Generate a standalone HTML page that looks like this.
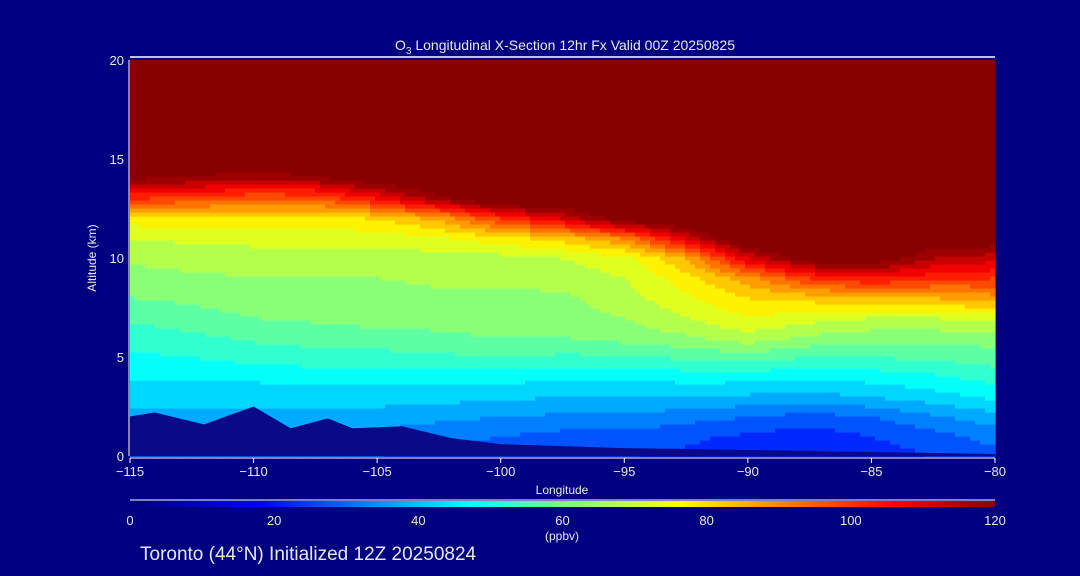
<!DOCTYPE html>
<html><head><meta charset="utf-8"><style>
body{margin:0;background:#000080;}
svg{display:block;font-family:"Liberation Sans",sans-serif;}
</style></head><body>
<svg id="chart" width="1080" height="576" viewBox="0 0 1080 576">
<rect width="1080" height="576" fill="#000080"/>
<g id="cells"></g>
<polygon id="terrain" fill="#0a0a88"/>
<g id="axes"></g>
<text x="565" y="50" fill="#e8e8e8" font-size="14" text-anchor="middle">O<tspan font-size="10" dy="4">3</tspan><tspan dy="-4"> Longitudinal X-Section 12hr  Fx Valid 00Z 20250825</tspan></text>
<text x="562" y="494" fill="#e8e8e8" font-size="12" text-anchor="middle">Longitude</text>
<text x="96" y="258" fill="#e8e8e8" font-size="12" text-anchor="middle" transform="rotate(-90 96 258)">Altitude (km)</text>
<g id="cbar"></g>
<text x="562" y="540" fill="#e8e8e8" font-size="12" text-anchor="middle">(ppbv)</text>
<text x="140" y="560" fill="#e8e8e8" font-size="19">Toronto (44°N) Initialized 12Z 20250824</text>
</svg>
<script>
const lons=[-115,-112.5,-110,-107.5,-105,-102.5,-100,-97.5,-95,-92.5,-90,-87.5,-85,-82.5,-80];
const alts=[0,1,2,3,4,5,6,7,8,9,10,11,12,13,14,15,16,17,18,19,20];
const H=130;
const ozone=[
[30,30,30,30,30,28,26,25,25,24,22,20,22,25,28],
[33,33,33,33,33,32,30,28,28,26,24,22,25,28,32],
[38,38,38,38,38,36,35,34,34,32,30,28,30,34,38],
[42,42,42,42,42,42,41,40,40,40,39,38,40,43,46],
[46,46,46,47,47,47,47,46,46,47,47,46,47,49,52],
[49,50,52,53,53,54,55,54,54,56,57,55,55,56,58],
[52,54,56,57,58,59,60,60,62,64,68,64,62,62,62],
[56,58,60,61,62,62,63,63,65,70,75,72,70,70,72],
[60,61,63,63,63,64,64,64,68,74,80,82,85,85,88],
[63,64,65,65,65,66,66,67,70,78,88,100,105,102,100],
[66,67,67,67,67,68,68,70,73,85,110,125,125,115,112],
[70,71,72,72,72,74,78,82,90,110,H,H,H,125,125],
[78,78,78,78,80,86,100,110,125,H,H,H,H,H,H],
[100,98,95,95,105,118,H,H,H,H,H,H,H,H,H],
[120,118,115,118,125,H,H,H,H,H,H,H,H,H,H],
[H,H,H,H,H,H,H,H,H,H,H,H,H,H,H],
[H,H,H,H,H,H,H,H,H,H,H,H,H,H,H],
[H,H,H,H,H,H,H,H,H,H,H,H,H,H,H],
[H,H,H,H,H,H,H,H,H,H,H,H,H,H,H],
[H,H,H,H,H,H,H,H,H,H,H,H,H,H,H],
[H,H,H,H,H,H,H,H,H,H,H,H,H,H,H]];
const terrainLon=[-115,-114,-112,-110,-108.5,-107,-106,-104,-102,-100,-95,-90,-85,-80];
const terrainAlt=[2.0,2.2,1.6,2.5,1.4,1.9,1.4,1.5,0.9,0.6,0.4,0.3,0.2,0.1];
const xTicks=[-115,-110,-105,-100,-95,-90,-85,-80];
const yTicks=[0,5,10,15,20];
const cTicks=[0,20,40,60,80,100,120];

const X0=130,X1=995,Y0=456,Y1=60;
const xs=l=>X0+(l+115)/35*(X1-X0);
const ys=a=>Y0-a/20*(Y0-Y1);
const stops=[[0,[0,0,128]],[18,[0,0,255]],[47,[0,255,255]],[76,[255,255,0]],[106,[255,0,0]],[120,[136,0,0]]];
function color(v){
  if(v>=120)return 'rgb(136,0,0)';
  v=Math.max(0,v);
  for(let i=0;i<stops.length-1;i++){const[a,ca]=stops[i],[b,cb]=stops[i+1];
    if(v<=b){const t=(v-a)/(b-a);return 'rgb('+ca.map((c,k)=>Math.round(c+(cb[k]-c)*t)).join(',')+')';}}
}
function val(lon,alt){
  let i=Math.min(lons.length-2,Math.max(0,Math.floor((lon+115)/2.5)));
  let j=Math.min(alts.length-2,Math.max(0,Math.floor(alt)));
  const tx=(lon-lons[i])/2.5,ty=alt-alts[j];
  const a=ozone[j][i],b=ozone[j][i+1],c=ozone[j+1][i],d=ozone[j+1][i+1];
  return (a*(1-tx)+b*tx)*(1-ty)+(c*(1-tx)+d*tx)*ty;
}
const NS='http://www.w3.org/2000/svg';
const g=document.getElementById('cells');
const nx=173,ny=99,dl=35/nx,da=20/ny;
for(let i=0;i<nx;i++)for(let j=0;j<ny;j++){
  const lon=-115+(i+0.5)*dl,alt=(j+0.5)*da;
  // quantize like contour fill
  const v=Math.floor(val(lon,alt)/5)*5+2.5;
  const r=document.createElementNS(NS,'rect');
  
  
  const x=xs(-115+i*dl),y=ys(alt+da/2);
  r.setAttribute('x',x.toFixed(2));r.setAttribute('y',y.toFixed(2));
  r.setAttribute('width',(xs(-115+(i+1)*dl)-x+0.6).toFixed(2));
  r.setAttribute('height',(ys(alt-da/2)-y+0.6).toFixed(2));
  r.setAttribute('fill',color(v));
  g.appendChild(r);
}
let pts=terrainLon.map((l,k)=>xs(l)+','+ys(terrainAlt[k])).join(' ');
pts+=' '+xs(-80)+','+Y0+' '+xs(-115)+','+Y0;
document.getElementById('terrain').setAttribute('points',pts);

const ax=document.getElementById('axes');
function el(tag,attrs,txt){const e=document.createElementNS(NS,tag);for(const k in attrs)e.setAttribute(k,attrs[k]);if(txt!==undefined)e.textContent=txt;ax.appendChild(e);return e;}
let e;
e=el('line',{x1:X0,y1:Y1-3,x2:X1,y2:Y1-3,stroke:'#fff','stroke-width':1.5});

e=el('line',{x1:X0,y1:Y0+2,x2:X1,y2:Y0+2,stroke:'#fff','stroke-width':1});

e=el('line',{x1:X0-1,y1:Y1,x2:X0-1,y2:Y0,stroke:'#fff','stroke-width':1});

xTicks.forEach(t=>{
  e=el('line',{x1:xs(t),y1:Y0+2,x2:xs(t),y2:Y0+7,stroke:'#fff'});
  
  e=el('text',{x:xs(t),y:Y0+20,fill:'#e8e8e8','font-size':13,'text-anchor':'middle'},String(t).replace('-','\u2212'));
  
});
yTicks.forEach(t=>{
  e=el('text',{x:X0-6,y:ys(t)+5,fill:'#e8e8e8','font-size':13,'text-anchor':'end'},t);
  
});
const cb=document.getElementById('cbar');
const defs=document.createElementNS(NS,'defs');
const lg=document.createElementNS(NS,'linearGradient');lg.id='cg';
stops.forEach(([v,c])=>{const s=document.createElementNS(NS,'stop');s.setAttribute('offset',v/120);s.setAttribute('stop-color','rgb('+c.join(',')+')');lg.appendChild(s);});
defs.appendChild(lg);cb.appendChild(defs);
const cl=document.createElementNS(NS,'line');


cl.setAttribute('x1',X0);cl.setAttribute('x2',X1);cl.setAttribute('y1',500);cl.setAttribute('y2',500);cl.setAttribute('stroke','#fff');cb.appendChild(cl);
const cr=document.createElementNS(NS,'rect');


cr.setAttribute('x',X0);cr.setAttribute('y',501);cr.setAttribute('width',X1-X0);cr.setAttribute('height',6);cr.setAttribute('fill','url(#cg)');cb.appendChild(cr);
cTicks.forEach(t=>{
  const tx=document.createElementNS(NS,'text');
  
  
  tx.setAttribute('x',X0+t/120*(X1-X0));tx.setAttribute('y',525);tx.setAttribute('fill','#e8e8e8');tx.setAttribute('font-size',13);tx.setAttribute('text-anchor','middle');tx.textContent=t;cb.appendChild(tx);
});
</script>
</body></html>
